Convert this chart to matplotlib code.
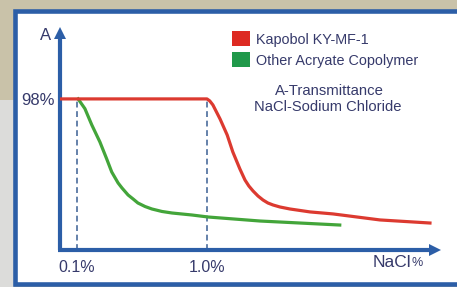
import matplotlib
matplotlib.use("Agg")
import matplotlib.pyplot as plt
from matplotlib.patches import Rectangle, Patch
from matplotlib.ticker import NullLocator

# NaCl concentration (%) vs transmittance A (%)
nacl_ky = [0.074, 1.0, 1.05, 1.11, 1.26, 1.43, 1.58, 1.79, 1.96, 2.10, 2.26, 2.47, 2.70, 2.94,
           3.22, 3.64, 4.35, 6.20, 9.31, 21.4, 51.9]
trans_ky = [98, 98, 96.7, 94.1, 85.0, 74.6, 63.6, 52.6, 45.4, 41.5, 38.3, 35.0, 32.4, 30.5,
            29.2, 27.9, 26.6, 24.7, 23.4, 19.5, 17.5]

nacl_other = [0.102, 0.115, 0.130, 0.150, 0.169, 0.185, 0.207, 0.222, 0.247, 0.270, 0.294,
              0.334, 0.377, 0.45, 0.538, 0.767, 1.02, 2.56, 5.19, 10.5]
trans_other = [98, 91.7, 81.1, 70.1, 59.2, 50.6, 43.5, 40.2, 35.7, 33.1, 30.5,
               28.2, 26.6, 25.0, 24.0, 22.7, 21.4, 18.8, 17.5, 16.2]

series_names = ['Kapobol KY-MF-1', 'Other Acryate Copolymer']
marker_conc = [0.1, 1.0]
marker_labels = ['0.1%', '1.0%']
top_level = 98

blue = '#2c5ea7'
navy = '#363a6b'
red_line = '#dc3a30'
green_line = '#43a53a'
red_box = '#dd2a22'
green_box = '#20994a'

plt.rcParams['font.family'] = ['Liberation Sans', 'DejaVu Sans']

fig = plt.figure(figsize=(4.57, 2.87), dpi=100)

# background + white framed panel
bg = fig.add_axes([0, 0, 1, 1], zorder=-1)
bg.set_xlim(0, 457)
bg.set_ylim(287, 0)
bg.axis('off')
bg.add_patch(Rectangle((0, 0), 457, 287, facecolor='#c9c2a9', edgecolor='none'))
bg.add_patch(Rectangle((0, 100), 14, 187, facecolor='#dcdcda', edgecolor='none'))
bg.add_patch(Rectangle((14.5, 10.5), 460, 273.5, facecolor='white', edgecolor=blue, lw=3.3))

ax = fig.add_axes([60 / 457, 37 / 287, 380 / 457, 222 / 287])
ax.set_facecolor('none')
ax.set_xscale('log')
ax.set_xlim(0.074, 62)
ax.set_ylim(0, 144)
for s in ax.spines.values():
    s.set_visible(False)

# axes with arrow heads
ax.plot([0, 0], [0, 0.975], transform=ax.transAxes, color=blue, lw=3, clip_on=False, solid_capstyle='butt')
ax.plot([-0.005, 0.985], [0, 0], transform=ax.transAxes, color=blue, lw=3, clip_on=False, solid_capstyle='butt')
ax.plot(0, 0.976, marker='^', ms=8, color=blue, mew=0, transform=ax.transAxes, clip_on=False)
ax.plot(0.986, 0, marker='>', ms=8, color=blue, mew=0, transform=ax.transAxes, clip_on=False)

ax.vlines(marker_conc, 0, top_level, colors='#4a6c9c', lw=1.2, linestyles=(0, (3.5, 2.2)), zorder=1)

ax.plot(nacl_ky, trans_ky, color=red_line, lw=2.3, zorder=3, solid_joinstyle='round')
ax.plot(nacl_other, trans_other, color=green_line, lw=2.3, zorder=2, solid_joinstyle='round')

ax.set_xticks(marker_conc)
ax.set_xticklabels(marker_labels)
ax.xaxis.set_minor_locator(NullLocator())
ax.set_yticks([top_level])
ax.set_yticklabels(['%d%%' % top_level])
ax.tick_params(axis='x', length=0, pad=7, labelsize=11.5, labelcolor=navy)
ax.tick_params(axis='y', length=0, pad=4, labelsize=12, labelcolor=navy)

ax.text(-0.037, 0.965, 'A', transform=ax.transAxes, ha='center', va='center', fontsize=12, color=navy)
ax.text(0.925, -0.055, 'NaCl', transform=ax.transAxes, ha='right', va='center', fontsize=12.5, color=navy)
ax.text(0.925, -0.06, '%', transform=ax.transAxes, ha='left', va='center', fontsize=9, color=navy)

handles = [Patch(facecolor=red_box, edgecolor='none'), Patch(facecolor=green_box, edgecolor='none')]
fig.legend(handles, series_names, loc='upper left', bbox_to_anchor=(232 / 457, 1 - 31.5 / 287),
           frameon=False, fontsize=10.4, handlelength=1.25, handleheight=1.17, handletextpad=0.38,
           labelspacing=0.4, borderpad=0, borderaxespad=0, labelcolor=navy)

fig.text(329 / 457, 1 - 91.5 / 287, 'A-Transmittance', ha='center', va='center', fontsize=10.7, color=navy)
fig.text(328 / 457, 1 - 107 / 287, 'NaCl-Sodium Chloride', ha='center', va='center', fontsize=10.6, color=navy)

fig.savefig('out.png', dpi=100)
